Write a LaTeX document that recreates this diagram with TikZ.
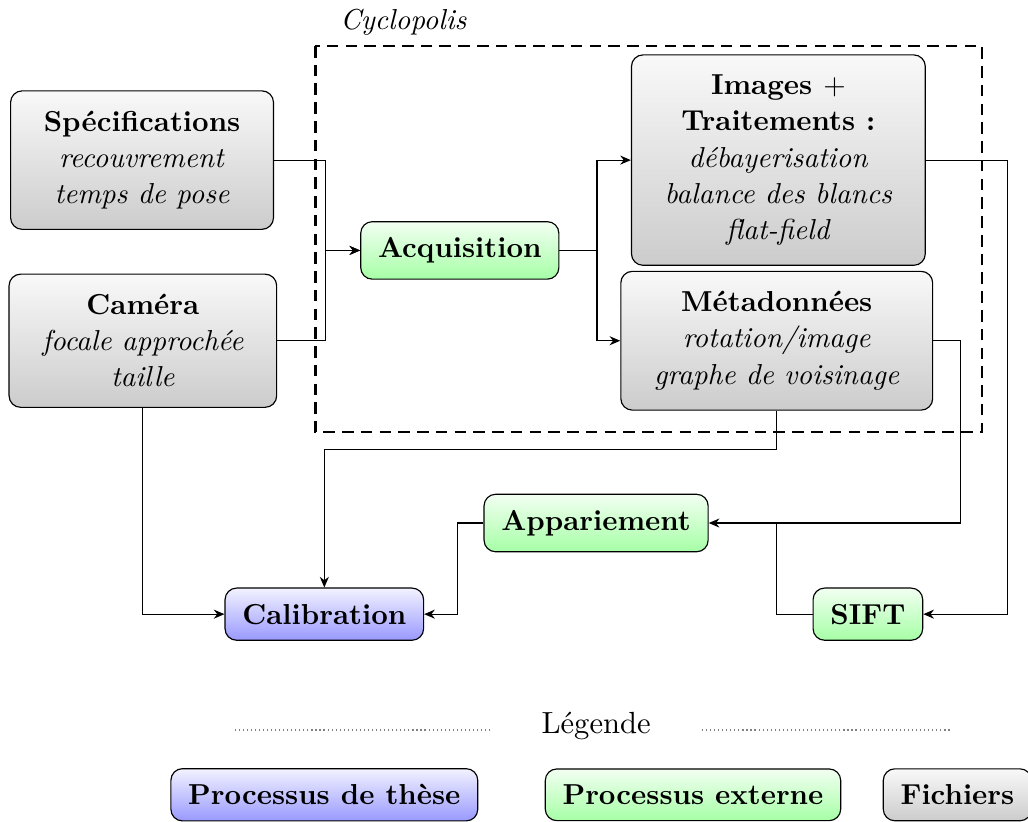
\documentclass[tikz,border=0pt]{standalone}
\usepackage{fontspec}
\usepackage{tikz}
\usetikzlibrary{arrows.meta, positioning}

\begin{document}
\begin{tikzpicture}[
  fichier/.style={draw, rounded corners=4pt, top color=gray!5, bottom color=gray!40,
    align=center, inner xsep=11.5pt, inner ysep=7pt, font=\fontsize{10}{12.5}\selectfont},
  processus/.style={draw, rounded corners=4pt, top color=green!5, bottom color=green!35,
    font=\bfseries, inner xsep=6pt, inner ysep=5.5pt},
  these/.style={processus, top color=blue!5, bottom color=blue!40},
  fichierleg/.style={processus, top color=gray!5, bottom color=gray!40},
  lien/.style={-{Stealth[length=1.3mm, width=1.1mm]}},
  cadre/.style={line width=0.9pt, dash pattern=on 4pt off 2.5pt},
  pointille/.style={densely dotted, gray}
]
\useasboundingbox (0,0) rectangle (12.52,-10.0);

% fichiers d'entree
\node[fichier] (spec) at (1.73,-1.95) {\textbf{Spécifications}\\ \textit{recouvrement}\\ \textit{temps de pose}};
\node[fichier] (cam) at (1.74,-4.15) {\textbf{Caméra}\\ \textit{focale approchée}\\ \textit{taille}};

% Cyclopolis
\draw[cadre] (3.84,-0.56) rectangle (11.96,-5.26);
\node[anchor=west, font=\itshape] (cyclo) at (4.02,-0.27) {Cyclopolis};
\node[processus] (acq) at (5.60,-3.05) {Acquisition};
\node[fichier] (img) at (9.48,-1.95) {\textbf{Images $+$}\\ \textbf{Traitements :}\\ \textit{débayerisation}\\ \textit{balance des blancs}\\ \textit{flat-field}};
\node[fichier] (meta) at (9.46,-4.15) {\textbf{Métadonnées}\\ \textit{rotation/image}\\ \textit{graphe de voisinage}};

% traitements
\node[processus] (app) at (7.26,-6.37) {Appariement};
\node[these] (calib) at (3.95,-7.48) {Calibration};
\node[processus] (sift) at (10.57,-7.48) {SIFT};

\coordinate (jin) at (3.96,-3.05);
\coordinate (jout) at (7.27,-3.05);
\draw[lien] (spec.east) -| (jin) -- (acq.west);
\draw[lien] (cam.east) -| (jin) -- (acq.west);
\draw (acq.east) -- (jout);
\draw[lien] (jout) |- (img.west);
\draw[lien] (jout) |- (meta.west);
\draw[lien] (img.east) -- ++(0.99,0) |- (sift.east);
\draw[lien] (meta.east) -- ++(0.33,0) |- (app.east);
\draw (sift.west) -| (meta.south |- app.east);
\draw[lien] (meta.south) -- ++(0,-0.475) -| (calib.north);
\draw[lien] (cam.south) |- (calib.west);
\draw[lien] (app.west) -- ++(-0.32,0) |- (calib.east);

% legende
\node[font=\fontsize{10.6}{13}\selectfont] (leg) at (7.26,-8.84) {Légende};
\draw[pointille] ([xshift=-5mm, yshift=-0.5mm]leg.west) -- ++(-3.14,0);
\draw[pointille] ([xshift=5mm, yshift=-0.5mm]leg.east) -- ++(3.03,0);
\node[these] (lthese) at (3.95,-9.68) {Processus de thèse};
\node[processus] (lext) at (8.44,-9.68) {Processus externe};
\node[fichierleg] (lfich) at (11.66,-9.68) {Fichiers};
\end{tikzpicture}
\end{document}
